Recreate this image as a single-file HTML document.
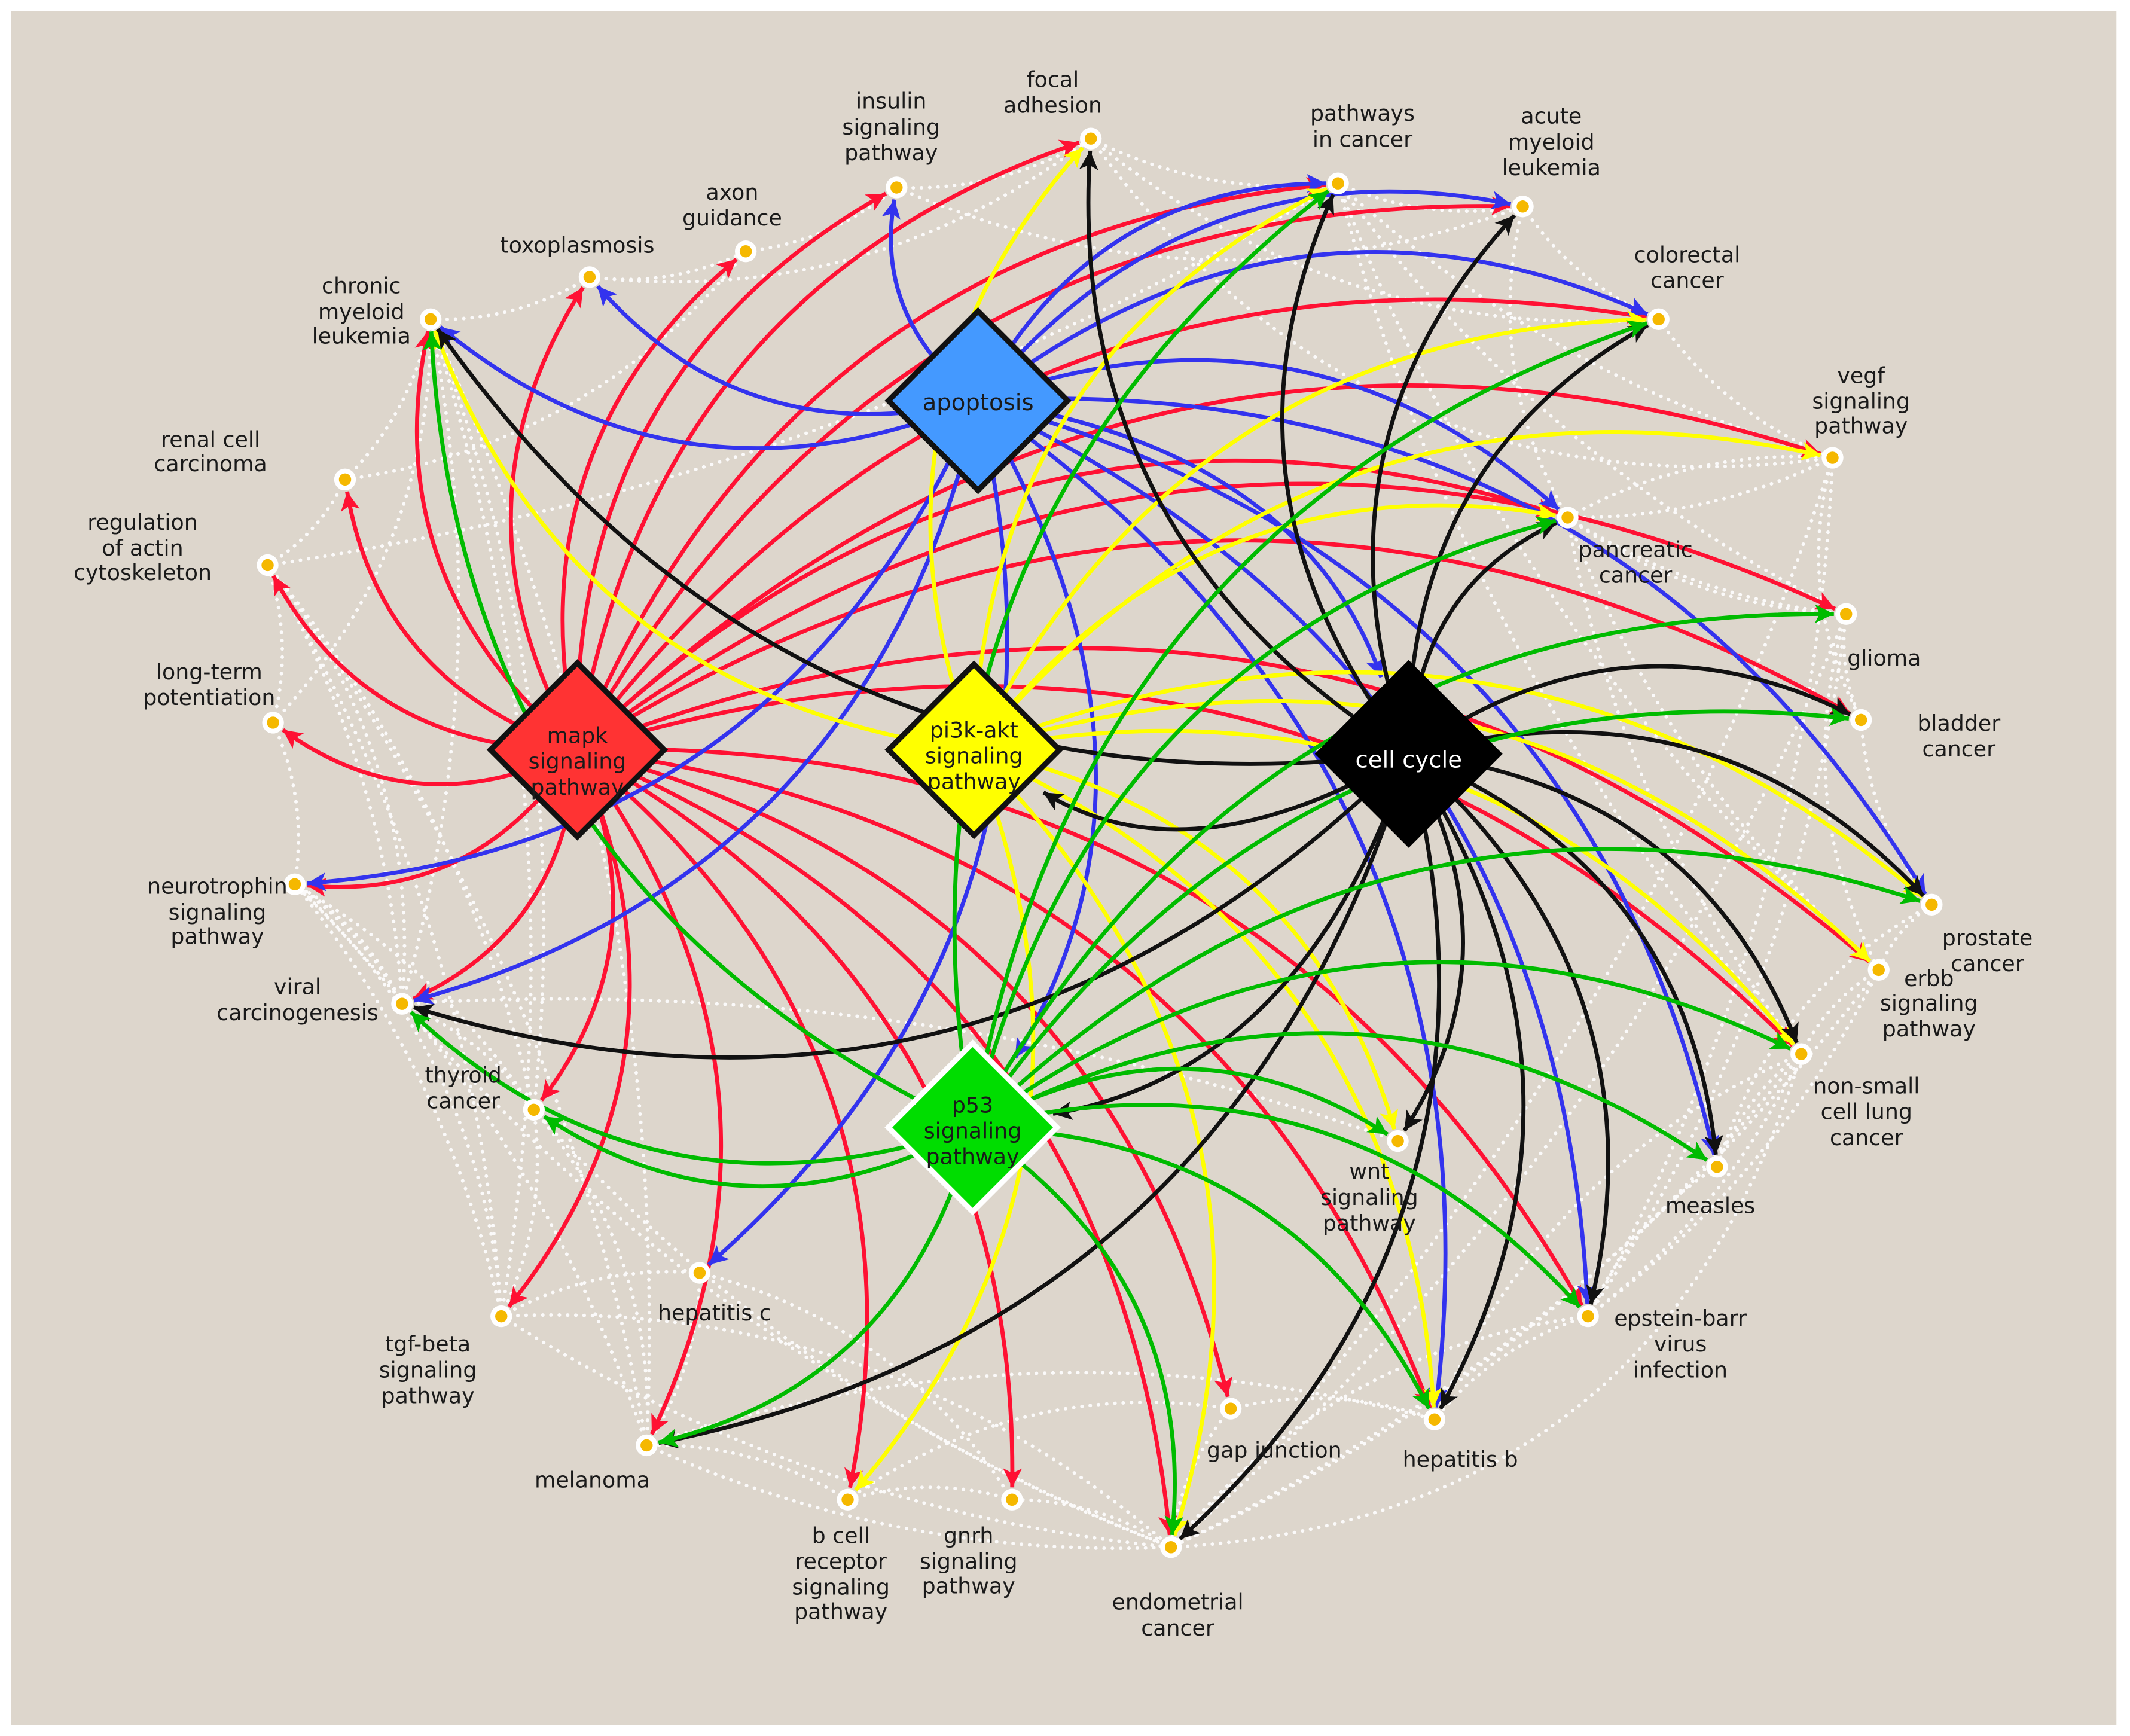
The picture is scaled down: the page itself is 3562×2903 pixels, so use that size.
<!DOCTYPE html>
<html><head><meta charset="utf-8"><style>
html,body{margin:0;padding:0;background:#fff;}
svg{display:block;}
text{font-family:"DejaVu Sans","Liberation Sans",sans-serif;font-size:16px;fill:#1a1a1a;text-anchor:middle;}
</style></head><body>
<svg id="s" width="3562" height="2903" viewBox="0 0 1568 1278" preserveAspectRatio="none" xmlns="http://www.w3.org/2000/svg">
<rect x="0" y="0" width="1568" height="1278" fill="#fff"/>
<rect x="8" y="8" width="1550" height="1262" fill="#ddd6cc"/>
<g id="dots" fill="none" stroke="#fff" stroke-width="2.6" stroke-dasharray="0.1 6" stroke-linecap="round" opacity="0.9"></g>
<g id="edges" fill="none" stroke-width="3"></g>
<g id="hubs"></g>
<g id="nodes"></g>
<g id="labels">
<text x="775" y="64">focal</text><text x="775" y="83">adhesion</text>
<text x="656" y="80">insulin</text><text x="656" y="99">signaling</text><text x="656" y="118">pathway</text>
<text x="539" y="147">axon</text><text x="539" y="166">guidance</text>
<text x="425" y="186">toxoplasmosis</text>
<text x="266" y="216">chronic</text><text x="266" y="235">myeloid</text><text x="266" y="253">leukemia</text>
<text x="155" y="329">renal cell</text><text x="155" y="347">carcinoma</text>
<text x="105" y="390">regulation</text><text x="105" y="409">of actin</text><text x="105" y="427">cytoskeleton</text>
<text x="154" y="500">long-term</text><text x="154" y="519">potentiation</text>
<text x="160" y="658">neurotrophin</text><text x="160" y="677">signaling</text><text x="160" y="695">pathway</text>
<text x="219" y="732">viral</text><text x="219" y="751">carcinogenesis</text>
<text x="341" y="797">thyroid</text><text x="341" y="816">cancer</text>
<text x="315" y="995">tgf-beta</text><text x="315" y="1014">signaling</text><text x="315" y="1033">pathway</text>
<text x="526" y="972">hepatitis c</text>
<text x="436" y="1095">melanoma</text>
<text x="619" y="1136">b cell</text><text x="619" y="1155">receptor</text><text x="619" y="1174">signaling</text><text x="619" y="1192">pathway</text>
<text x="713" y="1136">gnrh</text><text x="713" y="1155">signaling</text><text x="713" y="1173">pathway</text>
<text x="867" y="1185">endometrial</text><text x="867" y="1204">cancer</text>
<text x="938" y="1073">gap junction</text>
<text x="1075" y="1080">hepatitis b</text>
<text x="1237" y="976">epstein-barr</text><text x="1237" y="995">virus</text><text x="1237" y="1014">infection</text>
<text x="1008" y="868">wnt</text><text x="1008" y="887">signaling</text><text x="1008" y="906">pathway</text>
<text x="1259" y="893">measles</text>
<text x="1374" y="805">non-small</text><text x="1374" y="824">cell lung</text><text x="1374" y="843">cancer</text>
<text x="1420" y="726">erbb</text><text x="1420" y="744">signaling</text><text x="1420" y="763">pathway</text>
<text x="1463" y="696">prostate</text><text x="1463" y="715">cancer</text>
<text x="1442" y="538">bladder</text><text x="1442" y="557">cancer</text>
<text x="1387" y="490">glioma</text>
<text x="1204" y="410">pancreatic</text><text x="1204" y="429">cancer</text>
<text x="1370" y="282">vegf</text><text x="1370" y="301">signaling</text><text x="1370" y="319">pathway</text>
<text x="1242" y="193">colorectal</text><text x="1242" y="212">cancer</text>
<text x="1142" y="91">acute</text><text x="1142" y="110">myeloid</text><text x="1142" y="129">leukemia</text>
<text x="1003" y="89">pathways</text><text x="1003" y="108">in cancer</text>
</g>
<g id="hublabels">
<text x="425" y="547">mapk</text><text x="425" y="566">signaling</text><text x="425" y="585">pathway</text>
<text x="720" y="302" style="font-size:17px">apoptosis</text>
<text x="717" y="543">pi3k-akt</text><text x="717" y="562">signaling</text><text x="717" y="581">pathway</text>
<text x="1037" y="565" style="fill:#fff;font-size:17px">cell cycle</text>
<text x="716" y="819">p53</text><text x="716" y="838">signaling</text><text x="716" y="857">pathway</text>
</g>
</svg>
<script>
var N={fa:[803,102],ins:[660,138],axon:[549,185],toxo:[434,204],cml:[317,235],renal:[254,353],actin:[197,416],ltp:[201,532],neuro:[217,651],viral:[296,739],thy:[393,817],tgf:[369,969],hepc:[515,937],mel:[476,1064],bcell:[624,1104],gnrh:[745,1104],endo:[862,1139],gap:[906,1037],hepb:[1056,1045],ebv:[1169,969],wnt:[1029,840],meas:[1264,859],nsc:[1326,776],erbb:[1383,714],pros:[1422,666],blad:[1370,530],gli:[1359,452],panc:[1154,381],vegf:[1349,337],colo:[1221,235],aml:[1121,152],pic:[985,135],
mapk:[425,552],apo:[720,295],pi3k:[717,552],cc:[1037,555],p53:[716,830]};
var hubs={mapk:1,apo:1,pi3k:1,cc:1,p53:1};
var E={
'#ff1133':['mapk',['fa','ins','axon','toxo','cml','renal','actin','ltp','neuro','viral','thy','tgf','mel','bcell','gnrh','gap','endo','hepb','ebv','nsc','blad','gli','panc','colo','aml','pic','erbb','vegf']],
'#3333ee':['apo',['ins','toxo','cml','neuro','viral','hepc','pic','aml','colo','panc','pros','meas','hepb','ebv','cc','p53']],
'#ffff00':['pi3k',['fa','pic','colo','vegf','panc','cml','bcell','endo','hepb','nsc','pros','erbb','wnt']],
'#111111':['cc',['fa','pic','aml','colo','panc','blad','pros','nsc','meas','ebv','hepb','endo','wnt','mel','viral','cml','p53','pi3k']],
'#00bb00':['p53',['cml','pic','colo','panc','gli','blad','pros','nsc','meas','ebv','hepb','endo','mel','viral','thy','wnt']]};
var ns='http://www.w3.org/2000/svg';
function el(t,a,p){var e=document.createElementNS(ns,t);for(var k in a)e.setAttribute(k,a[k]);p.appendChild(e);return e;}
var svg=document.getElementById('s'),defs=el('defs',{},svg);
var ci=0;
for(var c in E){ci++;
 var m=el('marker',{id:'m'+ci,viewBox:'0 0 10 10',refX:'10',refY:'5',markerWidth:'14',markerHeight:'14',markerUnits:'userSpaceOnUse',orient:'auto'},defs);
 el('path',{d:'M0,0 L10,5 L0,10 L2.5,5 z',fill:c},m);
 var s=E[c][0],A=N[s];
 E[c][1].forEach(function(t,i){var B=N[t];var dx=B[0]-A[0],dy=B[1]-A[1];
  var k=0.3;var cx=(A[0]+B[0])/2+dy*k,cy=(A[1]+B[1])/2-dx*k;
  var r=hubs[t]?60:9;var tx=B[0]-cx,ty=B[1]-cy,tl=Math.hypot(tx,ty);
  var ex=B[0]-tx/tl*r,ey=B[1]-ty/tl*r;
  el('path',{d:'M'+A[0]+' '+A[1]+' Q'+cx+' '+cy+' '+ex+' '+ey,stroke:c,'marker-end':'url(#m'+ci+')'},document.getElementById('edges'));});
}
var ring=['fa','pic','aml','colo','vegf','panc','gli','blad','pros','erbb','nsc','meas','ebv','hepb','gap','endo','gnrh','bcell','mel','hepc','tgf','thy','viral','neuro','ltp','actin','renal','cml','toxo','axon','ins'];
var dg=document.getElementById('dots');
function dl(a,b,k){var A=N[a],B=N[b];var dx=B[0]-A[0],dy=B[1]-A[1];var cx=(A[0]+B[0])/2+dy*k,cy=(A[1]+B[1])/2-dx*k;el('path',{d:'M'+A[0]+' '+A[1]+' Q'+cx+' '+cy+' '+B[0]+' '+B[1]},dg);}
for(var i=0;i<ring.length;i++){dl(ring[i],ring[(i+1)%ring.length],-0.15);if(i%2==0)dl(ring[i],ring[(i+3)%ring.length],-0.2);}
['tgf','mel','viral','thy'].forEach(function(a){['neuro','actin','cml','endo'].forEach(function(b){dl(a,b,-0.12);});});
['vegf','gli','erbb','nsc'].forEach(function(a){['pic','panc','ebv','endo'].forEach(function(b){dl(a,b,0.12);});});
dl('endo','ebv',0.2);dl('tgf','endo',0.2);dl('mel','hepb',0.15);dl('viral','wnt',0.1);dl('actin','pic',-0.1);dl('fa','vegf',-0.3);dl('endo','nsc',-0.35);
var hg=document.getElementById('hubs');
function dia(k,h,fill,stroke,sw){var p=N[k];el('polygon',{points:(p[0])+','+(p[1]-h)+' '+(p[0]+h)+','+p[1]+' '+p[0]+','+(p[1]+h)+' '+(p[0]-h)+','+p[1],fill:fill,stroke:stroke,'stroke-width':sw},hg);}
dia('mapk',64,'#ff3333','#111',4);dia('apo',66,'#4499ff','#111',4);dia('pi3k',63,'#ffff00','#111',4);dia('cc',67,'#000','#000',3);dia('p53',62,'#00dd00','#fff',4);
var ng=document.getElementById('nodes');
for(var k in N){if(hubs[k])continue;el('circle',{cx:N[k][0],cy:N[k][1],r:8,fill:'#fff'},ng);el('circle',{cx:N[k][0],cy:N[k][1],r:4.5,fill:'#f5b800'},ng);}
</script>
</body></html>
